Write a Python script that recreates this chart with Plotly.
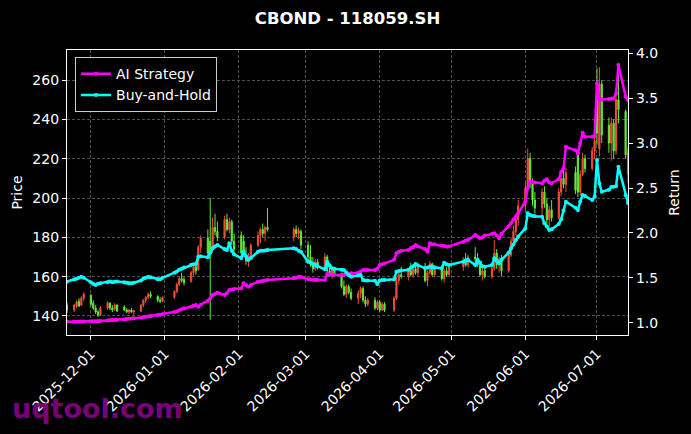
import pandas as pd
import plotly.graph_objects as go

# ---- trading calendar (Shanghai exchange, holidays removed) ----
holidays = ["2026-01-01", "2026-01-02", "2026-02-16", "2026-02-17", "2026-02-18",
            "2026-02-19", "2026-02-20", "2026-02-23", "2026-04-06", "2026-05-01",
            "2026-05-04", "2026-05-05", "2026-06-19"]
dates = [d for d in pd.bdate_range("2025-11-21", "2026-07-14") if d.strftime("%Y-%m-%d") not in holidays]

# ---- OHLC values ----
opens = [145.5, 143, 145, 147.5, 145.5, 149,
         150.5, 146.5, 144, 142, 140.5, 144, 146.5, 144, 143.5, 145.5, 144.5, 143, 142, 143, 142,
         142.5, 145.5, 148, 149.5, 151, 150, 148, 147.5,
         149.5, 152.5, 156, 159, 158.5, 157.5, 162, 165, 163.5, 175, 179.5, 178, 174, 185, 183,
         180, 189, 184, 188, 178,
         181, 178, 171, 168, 170, 176, 181, 184, 182, 185, 180, 184, 182, 183,
         176, 170, 167, 164, 167.5, 164.5, 170, 163, 161, 163.5, 161, 155, 151, 155, 152,
         149, 151.5, 154, 148, 146, 148, 144,
         147, 143, 146, 143, 149, 158, 161, 160, 163, 161, 164, 162, 165, 158, 162, 166.5, 161,
         165, 159, 163, 161,
         165, 168, 166, 170, 169, 166, 161, 163, 160, 164, 172, 166, 169, 163, 171, 178, 183, 189,
         196, 205, 220, 208, 199, 195, 203, 197, 189, 194, 190, 203, 210, 207, 213, 222, 203, 212,
         220, 215, 224,
         250, 225, 258, 237, 228, 238, 224, 250, 244, 212]
highs = [147, 146, 148, 149, 150, 152,
         151, 148, 145.5, 143, 145, 147.5, 147, 145.5, 146.5, 146, 145.5, 144, 143.5, 144, 143,
         146, 148.5, 150, 152, 152.5, 150.5, 149.5, 150,
         153, 157, 160, 162, 160, 163, 166, 167, 176, 181, 184, 200, 190, 192, 188,
         191, 192, 190, 189, 182,
         183, 181, 175, 172, 177, 183, 185, 187, 186, 195, 185, 186, 185, 184,
         178, 176, 170, 169, 169, 172, 171, 166, 165, 165, 162, 158, 156, 156, 154,
         153, 155, 155, 150, 149, 149.5, 148,
         148, 147, 147, 150, 160, 162, 165, 164, 167, 165, 166, 166, 167, 163, 168, 167, 166,
         166, 164, 165, 166,
         170, 172, 171, 175, 172, 168, 165, 166, 165, 178.5, 174, 170, 171, 172, 180, 186, 192, 199,
         208, 225, 223, 210, 203, 205, 206, 200, 196, 199, 205, 212, 216, 215, 216, 223, 214, 223,
         222, 226, 232,
         266, 266.6, 260, 241, 241, 240, 255, 268.6, 245, 226]
lows = [141.5, 142, 144, 144.5, 145, 147.5,
        145, 143, 141, 139.5, 140, 143, 143, 142, 142.5, 142, 142.5, 141.5, 141, 141.5, 140.5,
        142, 144.5, 146.5, 148.5, 149, 147, 146.5, 147,
        148.5, 151.5, 155, 157, 155.5, 157, 160.5, 161, 163, 172, 170, 138, 172, 181, 178,
        179, 183, 182, 176, 172,
        170, 170, 166, 165, 169, 175, 177, 180, 178, 183, 178, 180, 179, 174,
        168, 165, 162, 163, 163.5, 163, 162, 160, 159, 160, 154, 150, 149, 151, 148,
        146, 149, 147, 144.5, 145, 143, 143,
        142, 142.5, 142, 142, 148, 156, 159, 158, 160, 159.5, 161, 160, 157, 155, 161, 160, 160,
        158, 157, 160, 160.5,
        163, 165, 164.5, 167, 165, 160, 158, 159, 159, 163, 164, 162, 160, 162, 170, 175, 181, 186,
        193, 204, 205, 196, 192, 190, 195, 186, 185, 188, 189, 201, 205, 203, 202, 200.5, 201, 211,
        213, 214, 220,
        227, 221, 228, 223, 219, 220, 222, 238, 220, 207.6]
closes = [143, 145.5, 147, 145, 149, 151,
          146, 144, 142, 140.5, 144, 146.5, 144, 143, 145.5, 142.5, 143, 142, 143, 142, 142.5,
          145.5, 148, 149.5, 151, 150, 148, 147.5, 149.5,
          152.5, 156, 159, 158, 157, 162, 165, 163, 175, 179.5, 172, 173, 185, 183, 180,
          189, 184, 188, 178, 174,
          172, 171, 168, 170, 176, 181, 184, 182, 185, 184, 184, 182, 183.5, 176,
          170, 167, 164, 167.5, 164.5, 170, 163, 161, 163.5, 161, 155, 151, 155, 152, 149,
          151.5, 154, 148, 146, 148, 144, 147,
          143, 146, 143, 149, 158, 161, 160, 163, 161, 164, 162, 165, 158, 162, 166.5, 161, 165,
          159, 163, 161, 165,
          168, 166, 170, 169, 166, 161, 163, 160, 164, 172, 166, 169, 163, 171, 178, 183, 189, 196,
          205, 220, 208, 199, 195, 203, 197, 189, 194, 190, 203, 210, 207, 213, 204, 203, 212, 220,
          215, 224, 229,
          233, 258, 232, 228, 238, 224, 250, 245, 222, 224]

# ---- cumulative returns ----
ai_strategy = [1.01, 1.01, 1.01, 1.01, 1.012, 1.012,
               1.015, 1.015, 1.015, 1.018, 1.02, 1.025, 1.028, 1.03, 1.03, 1.03, 1.035, 1.04, 1.045,
               1.047, 1.049, 1.055, 1.06, 1.065, 1.07, 1.075, 1.086, 1.088, 1.095,
               1.12, 1.125, 1.14, 1.15, 1.16, 1.178, 1.19, 1.197, 1.178, 1.20, 1.245, 1.27, 1.308,
               1.32, 1.334, 1.308, 1.33, 1.364, 1.37, 1.375,
               1.383, 1.439, 1.42, 1.401, 1.42, 1.457, 1.46, 1.465, 1.47, 1.475, 1.494, 1.50, 1.512, 1.51,
               1.483, 1.48, 1.478, 1.476, 1.475, 1.475, 1.542, 1.54, 1.535, 1.535, 1.531, 1.535, 1.54,
               1.545, 1.55, 1.557, 1.57, 1.587, 1.587, 1.587, 1.587, 1.60,
               1.643, 1.65, 1.66, 1.70, 1.773, 1.791, 1.80, 1.81, 1.829, 1.84, 1.865, 1.85, 1.82, 1.791,
               1.884, 1.875, 1.87, 1.86, 1.855, 1.846, 1.85,
               1.90, 1.915, 1.921, 1.977, 1.96, 1.94, 1.95, 1.97, 1.988, 1.996, 1.97, 1.94, 1.99, 2.07,
               2.107, 2.15, 2.18, 2.218,
               2.35, 2.50, 2.57, 2.565, 2.56, 2.552, 2.58, 2.597, 2.56, 2.552, 2.60, 2.68, 2.719, 2.96,
               2.92, 2.886, 3.0, 3.116, 3.071, 3.071, 3.08,
               3.666, 3.48, 3.485, 3.49, 3.495, 3.50, 3.55, 3.87, 3.52, 3.48]
buy_and_hold = [1.457, 1.48, 1.49, 1.50, 1.512, 1.50,
                1.45, 1.43, 1.42, 1.435, 1.44, 1.45, 1.46, 1.45, 1.457, 1.46, 1.45, 1.445, 1.44,
                1.439, 1.445, 1.47, 1.49, 1.50, 1.512, 1.505, 1.485, 1.483, 1.50,
                1.555, 1.57, 1.59, 1.60, 1.615, 1.645, 1.65, 1.654, 1.735, 1.74, 1.728, 1.78, 1.829,
                1.85, 1.865, 1.82, 1.81, 1.884, 1.80, 1.76,
                1.72, 1.791, 1.74, 1.698, 1.72, 1.79, 1.80, 1.80, 1.805, 1.81, 1.828, 1.82, 1.80, 1.791,
                1.68, 1.67, 1.655, 1.643, 1.63, 1.595, 1.679, 1.64, 1.606, 1.60, 1.59, 1.587, 1.56,
                1.53, 1.512, 1.525, 1.531, 1.475, 1.47, 1.47, 1.468, 1.431,
                1.47, 1.475, 1.475, 1.483, 1.568, 1.575, 1.58, 1.59, 1.61, 1.63, 1.654, 1.64, 1.606,
                1.615, 1.624, 1.62, 1.615, 1.606, 1.668, 1.65, 1.643,
                1.68, 1.695, 1.698, 1.643, 1.698, 1.67, 1.63, 1.624, 1.643, 1.717, 1.69, 1.661, 1.70,
                1.78, 1.829, 1.87, 1.92, 1.96,
                2.05, 2.218, 2.20, 2.19, 2.185, 2.18, 2.107, 2.07, 2.032, 2.04, 2.10, 2.15, 2.25, 2.347,
                2.28, 2.255, 2.35, 2.422, 2.41, 2.366, 2.40,
                2.812, 2.55, 2.459, 2.48, 2.51, 2.514, 2.52, 2.737, 2.42, 2.333]

title_text = "CBOND - 118059.SH"
watermark = "uqtool.com"

FONT = "DejaVu Sans"
TICK = 14
fig = go.Figure()
fig.add_trace(go.Candlestick(
    x=dates, open=opens, high=highs, low=lows, close=closes,
    increasing=dict(line=dict(color="#ef4f3a", width=1), fillcolor="#ef4f3a"),
    decreasing=dict(line=dict(color="#62ea3a", width=1), fillcolor="#62ea3a"),
    whiskerwidth=0, showlegend=False, yaxis="y"))
fig.add_trace(go.Scatter(x=dates, y=ai_strategy, name="AI Strategy", mode="lines+markers",
                         line=dict(color="#ff00ff", width=2.5), marker=dict(size=4, color="#ff00ff"),
                         yaxis="y2"))
fig.add_trace(go.Scatter(x=dates, y=buy_and_hold, name="Buy-and-Hold", mode="lines+markers",
                         line=dict(color="#00ffff", width=2.5), marker=dict(size=4, color="#00ffff"),
                         yaxis="y2"))

grid = dict(showgrid=True, gridcolor="#505050", gridwidth=0.8, griddash="3px,2px")
axis_common = dict(showline=True, linecolor="white", linewidth=1.2, ticks="outside",
                   tickcolor="white", ticklen=4, tickfont=dict(color="white", size=TICK, family=FONT),
                   zeroline=False)
fig.update_layout(
    width=691, height=434,
    margin=dict(l=67, r=63, t=50, b=99),
    paper_bgcolor="black", plot_bgcolor="black",
    font=dict(family=FONT, color="white", size=TICK),
    title=dict(text="<b>" + title_text + "</b>", x=0.5, xref="paper", y=1 - 18 / 434,
               yref="container", xanchor="center", yanchor="middle",
               font=dict(size=16.5, color="white", family=FONT)),
    xaxis=dict(type="date", range=["2025-11-21", "2026-07-14"], tick0="2025-12-01", dtick="M1",
               tickformat="%Y-%m-%d", tickangle=-45, mirror=True, rangeslider=dict(visible=False),
               **grid, **axis_common),
    yaxis=dict(range=[130.3, 275.3], tick0=0, dtick=20, mirror=True,
               title=dict(text="Price", standoff=6, font=dict(size=TICK, color="white")),
               **grid, **axis_common),
    yaxis2=dict(range=[0.863, 4.037], tick0=0, dtick=0.5, tickformat=".1f", overlaying="y",
                side="right", showgrid=False,
                title=dict(text="Return", standoff=12, font=dict(size=TICK, color="white")),
                **axis_common),
    legend=dict(x=0.0143, y=0.975, xanchor="left", yanchor="top", bgcolor="black",
                bordercolor="#cccccc", borderwidth=1, font=dict(size=TICK, color="white"),
                tracegroupgap=2),
    showlegend=True,
    annotations=[dict(text="<b>" + watermark + "</b>", xref="paper", yref="paper",
                      x=(10 - 67) / 561, y=(335 - 408) / 285, xanchor="left", yanchor="middle",
                      showarrow=False, font=dict(size=27, color="rgba(140,0,140,0.9)", family=FONT))],
)
fig.write_html("out.html")
